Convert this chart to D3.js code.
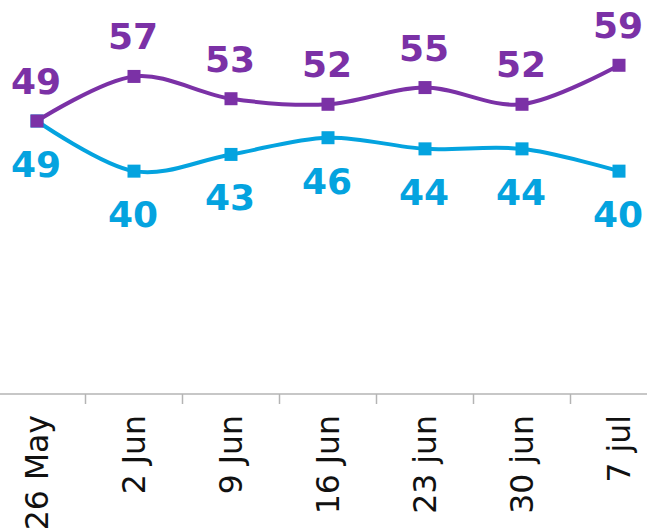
<!DOCTYPE html>
<html>
<head>
<meta charset="utf-8">
<script src="https://cdn.jsdelivr.net/npm/d3@7"></script>
<style>
  body { margin: 0; background: #fff; }
  svg { display: block; }
</style>
</head>
<body>
<div id="viz"></div>
<script>
const categories = ['26 May', '2 Jun', '9 Jun', '16 Jun', '23 jun', '30 jun', '7 jul'];
const purpleValues = [49, 57, 53, 52, 55, 52, 59];
const blueValues = [49, 40, 43, 46, 44, 44, 40];

const width = 647, height = 528;
const purple = '#7B31A6', blue = '#04A3DF';

let svg = d3.select('#viz')
    .append('svg')
    .attr('width', width)
    .attr('height', height);

// bands run a little past both edges, like the cropped original
let xScale = d3.scaleBand()
    .domain(categories)
    .range([-11.5, 667.5]);

let yScale = d3.scaleLinear()
    .domain([0, 70])
    .range([394, 4]);

const cx = d => xScale(d) + xScale.bandwidth() / 2;

// axis line
svg.append('line')
    .attr('x1', 0).attr('x2', width)
    .attr('y1', yScale(0)).attr('y2', yScale(0))
    .attr('stroke', '#b4b4b4')
    .attr('stroke-width', 1.5);

// ticks sit between the categories
svg.selectAll('.tick')
    .data(categories.slice(1))
    .enter()
    .append('line')
    .attr('x1', d => xScale(d)).attr('x2', d => xScale(d))
    .attr('y1', yScale(0)).attr('y2', yScale(0) + 10)
    .attr('stroke', '#b4b4b4')
    .attr('stroke-width', 1.5);

svg.selectAll('.xlabel')
    .data(categories)
    .enter()
    .append('text')
    .attr('transform', d => `translate(${cx(d)},415) rotate(-90)`)
    .attr('dy', '0.34em')
    .attr('text-anchor', 'end')
    .style('font-family', 'DejaVu Sans')
    .style('font-size', '31.5px')
    .attr('fill', '#111')
    .text(d => d);

let line = d3.line()
    .x((d, i) => cx(categories[i]))
    .y(d => yScale(d))
    .curve(d3.curveCardinal.tension(0));

function drawSeries(values, color, labelOffset) {
    svg.append('path')
        .datum(values)
        .attr('d', line)
        .attr('fill', 'none')
        .attr('stroke', color)
        .attr('stroke-width', 4);

    svg.append('g').selectAll('rect')
        .data(values)
        .enter()
        .append('rect')
        .attr('x', (d, i) => cx(categories[i]) - 6.5)
        .attr('y', d => yScale(d) - 6.5)
        .attr('width', 13)
        .attr('height', 13)
        .attr('fill', color);

    svg.append('g').selectAll('text')
        .data(values)
        .enter()
        .append('text')
        .attr('x', (d, i) => cx(categories[i]) - 1)
        .attr('y', d => yScale(d) + labelOffset)
        .attr('text-anchor', 'middle')
        .style('font-family', 'DejaVu Sans')
        .style('font-weight', 'bold')
        .style('font-size', '36px')
        .attr('fill', color)
        .text(d => d);
}

drawSeries(blueValues, blue, 56);
drawSeries(purpleValues, purple, -27);
</script>
</body>
</html>
